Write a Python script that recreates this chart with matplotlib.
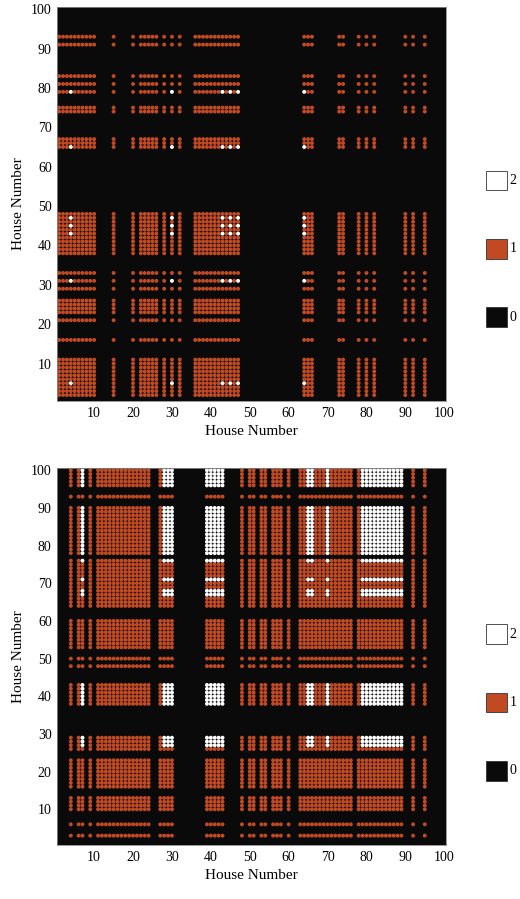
import numpy as np
import matplotlib
matplotlib.use("Agg")
import matplotlib.pyplot as plt
from matplotlib.patches import Rectangle

plt.rcParams['font.family'] = ['Liberation Serif', 'DejaVu Serif']

def rng(a, b):
    return list(range(a, b + 1))

# Top panel: active rows / columns and "2" rows / columns
top_rows = rng(2, 11) + [16, 21] + rng(23, 26) + [29, 31, 33] + rng(38, 48) + rng(65, 67) + [74, 75, 79, 81, 83, 91, 93]
top_cols = rng(1, 10) + [15, 20] + rng(22, 26) + [28, 30, 32] + rng(36, 47) + rng(64, 66) + [73, 74, 78, 80, 82, 90, 92, 95]
top_white_rows = [5, 31, 43, 45, 47, 65, 79]
top_white_cols = [4, 30, 43, 45, 47, 64, 79]

# Bottom panel
bot_rows = [3, 6] + rng(10, 13) + rng(16, 23) + rng(26, 29) + rng(38, 43) + [48, 50] + rng(53, 60) + rng(64, 76) + rng(78, 90) + [93] + rng(96, 100)
bot_cols = [4, 6, 7, 9] + rng(11, 15) + rng(16, 24) + rng(27, 30) + rng(39, 43) + [48, 50, 51, 53, 54, 56, 57, 58, 60] + rng(63, 76) + rng(78, 89) + [92, 95]
bot_white_rows = [8] + rng(27, 29) + rng(38, 43) + [67, 68, 71, 76] + rng(78, 90) + rng(96, 100)
bot_white_cols = [7] + rng(28, 30) + rng(39, 43) + [65, 66, 70] + rng(79, 89)

ticks = list(range(10, 101, 10))
levels = ['2', '1', '0']
colors = {'0': '#0a0a0a', '1': '#c24a22', '2': '#ffffff'}

def build(rows, cols, wr, wc):
    M = np.zeros((101, 101), dtype=int)
    for r in rows:
        for c in cols:
            M[r, c] = 1
    for r in wr:
        for c in wc:
            if M[r, c] == 1:
                M[r, c] = 2
    return M

fig = plt.figure(figsize=(5.2, 8.99), dpi=100)
panels = [
    (build(top_rows, top_cols, top_white_rows, top_white_cols), [0.11, 0.554, 0.748, 0.438]),
    (build(bot_rows, bot_cols, bot_white_rows, bot_white_cols), [0.11, 0.060, 0.748, 0.419]),
]
for M, rect in panels:
    ax = fig.add_axes(rect)
    ax.set_facecolor('#0a0a0a')
    for v in (1, 2):
        r, c = np.nonzero(M == v)
        ax.scatter(c, r, s=8, c=colors[str(v)], edgecolors='none', marker='o')
    ax.set_xlim(0.5, 100.5)
    ax.set_ylim(0.5, 100.5)
    ax.set_xticks(ticks)
    ax.set_yticks(ticks)
    ax.tick_params(length=0, labelsize=10, pad=4)
    ax.set_xlabel('House Number', fontsize=11)
    ax.set_ylabel('House Number', fontsize=11)
    for s in ax.spines.values():
        s.set_color('#888888')
        s.set_linewidth(0.6)
    ytop = rect[1] + rect[3] * 0.56
    for i, lv in enumerate(levels):
        yc = ytop - i * 0.076
        fig.patches.append(Rectangle((0.935, yc - 0.011), 0.04, 0.022, transform=fig.transFigure,
                                     facecolor=colors[lv], edgecolor='#333333', lw=0.6))
        fig.text(0.98, yc, lv, fontsize=10, va='center', ha='left')

fig.savefig('out.png', dpi=100)
